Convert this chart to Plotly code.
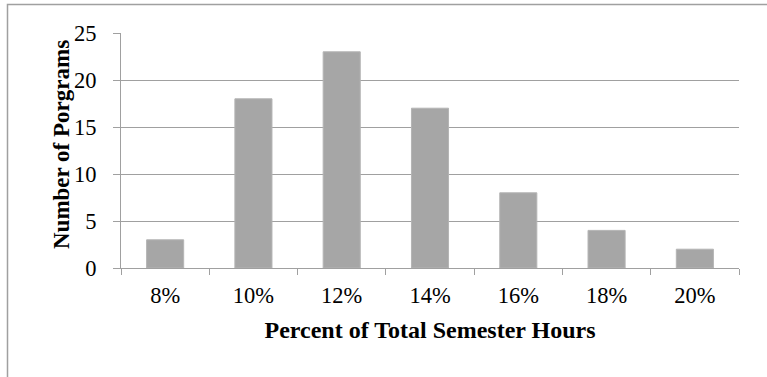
import plotly.graph_objects as go

categories = ["8%", "10%", "12%", "14%", "16%", "18%", "20%"]
programs = [3, 18, 23, 17, 8, 4, 2]
y_ticks = [0, 5, 10, 15, 20, 25]

font = "Liberation Serif, Times New Roman, serif"
grid = "#a0a0a0"

fig = go.Figure(go.Bar(
    x=categories, y=programs,
    marker=dict(color="#a6a6a6", line=dict(color="#b4b4b4", width=1)),
    width=0.42,
))

fig.update_layout(
    width=767, height=377,
    margin=dict(l=121, r=28, t=33, b=109),
    paper_bgcolor="white", plot_bgcolor="white",
    font=dict(family=font, size=22, color="black"),
    showlegend=False,
    shapes=[dict(type="rect", xref="paper", yref="paper",
                 x0=-113.5/618, x1=1 + 40/618, y0=1 + 28.5/235, y1=-200/235,
                 line=dict(color="#a0a0a0", width=1.5))],
    annotations=[dict(text="<b>Number of Porgrams</b>", textangle=-90,
                      xref="paper", yref="paper", x=-60/618, y=123/235,
                      xanchor="center", yanchor="middle", showarrow=False,
                      font=dict(size=23))],
)
fig.update_xaxes(
    showgrid=False, showline=True, linecolor=grid, linewidth=1,
    ticks="outside", tickson="boundaries", ticklen=6, tickcolor=grid,
    tickfont=dict(size=22.5), ticklabelstandoff=7,
    title=dict(text="<b>Percent of Total Semester Hours</b>", font=dict(size=24), standoff=14),
)
fig.update_yaxes(
    range=[0, 25], tickvals=y_ticks, showgrid=True, gridcolor=grid, gridwidth=1,
    showline=True, linecolor=grid, linewidth=1,
    ticks="outside", ticklen=7, tickcolor=grid, zeroline=False,
    tickfont=dict(size=22.5), ticklabelstandoff=12,
)

fig.write_html("out.html")
